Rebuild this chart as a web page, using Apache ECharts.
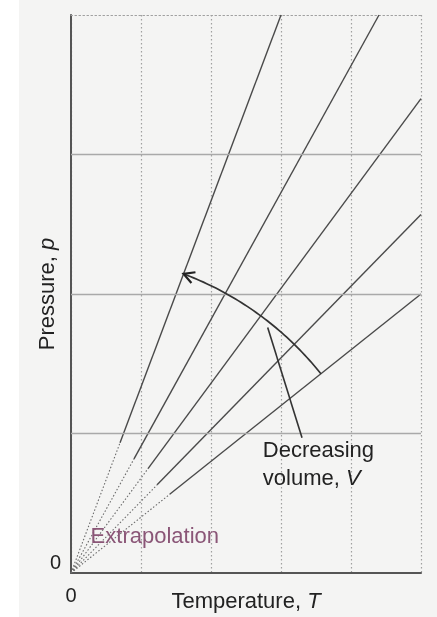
<!DOCTYPE html>
<html>
<head>
<meta charset="utf-8">
<style>
  html, body { margin: 0; padding: 0; background: #ffffff; }
  #chart { width: 437px; height: 617px; }
</style>
<script src="https://cdn.jsdelivr.net/npm/echarts@6/dist/echarts.min.js"></script>
</head>
<body>
<div id="chart"></div>
<script>
// Isochores: p proportional to T at fixed volume, all heading back to the origin.
const isochoreEnds = [[3.0, 4.0], [4.4, 4.0], [5.0, 3.4], [5.0, 2.57], [5.0, 2.0]];
// Where each measured (solid) segment begins; below this it is extrapolated.
const measuredFrom = [[0.7, 0.933], [0.9, 0.818], [1.1, 0.748], [1.23, 0.632], [1.41, 0.564]];
const origin = [0, 0];

// Axis ranges and gridlines
const tempTicks = [0, 1, 2, 3, 4, 5];
const pressureTicks = [0, 1, 2, 3, 4];
const pressureGrid = [1, 2, 3];

// "Decreasing volume" arrow: from the lowest isochore to the steepest one
const arrowFrom = [3.57, 1.428];
const arrowTo = [1.6, 2.133];
const leader = [[2.81, 1.76], [3.3, 0.97]];

// Annotations
const volumeLabelAt = [2.74, 0.975];
const extrapLabelAt = [0.28, 0.26];

const LINE = '#4a4a4a';
const TXT = '#222222';
const FONT = 'Liberation Sans, Arial, sans-serif';
const FS = 22;

const chart = echarts.init(document.getElementById('chart'));

const series = [];
isochoreEnds.forEach((end, i) => {
  series.push({
    type: 'line', xAxisIndex: 0, yAxisIndex: 0,
    data: [origin, measuredFrom[i]],
    symbol: 'none', silent: true, z: 3,
    lineStyle: { color: '#6a6a6a', width: 1.1, type: [1.5, 2] }
  });
  series.push({
    type: 'line', xAxisIndex: 0, yAxisIndex: 0,
    data: [measuredFrom[i], end],
    symbol: 'none', silent: true, z: 4,
    lineStyle: { color: LINE, width: 1.4 }
  });
});

// horizontal gridlines
series.push({
  type: 'line', data: [], silent: true,
  markLine: {
    silent: true, symbol: 'none', label: { show: false },
    lineStyle: { color: '#a9a9a9', width: 1.3, type: 'solid' },
    data: pressureGrid.map(v => ({ yAxis: v }))
  }
});

// leader line from the arrow to the label
series.push({
  type: 'line', data: leader, symbol: 'none', silent: true, z: 5,
  lineStyle: { color: '#333', width: 1.6 }
});

// circular arrow about the origin
series.push({
  type: 'custom', silent: true, z: 6,
  data: [[arrowFrom[0], arrowFrom[1], arrowTo[0], arrowTo[1]]],
  renderItem: function (params, api) {
    const o = api.coord(origin);
    const a = api.coord([api.value(0), api.value(1)]);
    const b = api.coord([api.value(2), api.value(3)]);
    const r = Math.hypot(a[0] - o[0], a[1] - o[1]);
    const t0 = Math.atan2(a[1] - o[1], a[0] - o[0]);
    const t1 = Math.atan2(b[1] - o[1], b[0] - o[0]);
    const pts = [];
    const n = 48;
    for (let k = 0; k <= n; k++) {
      const t = t0 + (t1 - t0) * k / n;
      pts.push([o[0] + r * Math.cos(t), o[1] + r * Math.sin(t)]);
    }
    const tip = pts[n];
    // direction of travel at the tip (tangent)
    const dir = Math.sign(t1 - t0);
    const tx = -Math.sin(t1) * dir, ty = Math.cos(t1) * dir;
    const back = Math.atan2(-ty, -tx);
    const len = 12, spread = 0.5;
    const w1 = [tip[0] + len * Math.cos(back + spread), tip[1] + len * Math.sin(back + spread)];
    const w2 = [tip[0] + len * Math.cos(back - spread), tip[1] + len * Math.sin(back - spread)];
    return {
      type: 'group',
      children: [
        { type: 'polyline', shape: { points: pts }, style: { stroke: '#333', lineWidth: 1.7, fill: null } },
        { type: 'polyline', shape: { points: [w1, tip, w2] }, style: { stroke: '#222', lineWidth: 2.2, fill: null } }
      ]
    };
  }
});

// text annotations
series.push({
  type: 'custom', silent: true, z: 7,
  data: [[volumeLabelAt[0], volumeLabelAt[1]]],
  renderItem: function (params, api) {
    const p = api.coord([api.value(0), api.value(1)]);
    return {
      type: 'text', x: p[0], y: p[1],
      style: {
        text: 'Decreasing\nvolume, {i|V}',
        fill: TXT, font: FS + 'px ' + FONT, lineHeight: 28,
        align: 'left', verticalAlign: 'top',
        rich: { i: { fontStyle: 'italic', fontSize: FS, fontFamily: FONT, fill: TXT, lineHeight: 28 } }
      }
    };
  }
});
series.push({
  type: 'custom', silent: true, z: 7,
  data: [[extrapLabelAt[0], extrapLabelAt[1]]],
  renderItem: function (params, api) {
    const p = api.coord([api.value(0), api.value(1)]);
    return {
      type: 'text', x: p[0], y: p[1],
      style: {
        text: 'Extrapolation', fill: '#8a5677', font: FS + 'px ' + FONT,
        align: 'left', verticalAlign: 'middle'
      }
    };
  }
});

chart.setOption({
  backgroundColor: '#f4f4f3',
  animation: false,
  graphic: [
    { type: 'rect', shape: { x: 0, y: 0, width: 19, height: 617 }, style: { fill: '#ffffff' }, silent: true }
  ],
  grid: { left: 71, right: 16, top: 15, bottom: 44, containLabel: false, outerBoundsMode: 'none' },
  xAxis: [{
    type: 'value', min: tempTicks[0], max: tempTicks[tempTicks.length - 1], interval: 1,
    name: 'Temperature, {i|T}', nameLocation: 'middle', nameGap: 29, nameMoveOverlap: false,
    nameTextStyle: {
      color: TXT, fontSize: FS, fontFamily: FONT, verticalAlign: 'middle',
      rich: { i: { fontStyle: 'italic', fontSize: FS, fontFamily: FONT, color: TXT } }
    },
    axisLine: { show: true, onZero: false, lineStyle: { color: '#555', width: 2 } },
    axisTick: { show: false },
    axisLabel: {
      margin: 13, color: TXT, fontSize: 20, fontFamily: FONT,
      formatter: v => (v === 0 ? '0' : '')
    },
    splitLine: { show: true, lineStyle: { color: '#a0a0a0', width: 1.2, type: [1.5, 2.5] } }
  }, {
    type: 'value', position: 'top', min: tempTicks[0], max: tempTicks[tempTicks.length - 1],
    axisLine: { show: true, onZero: false, lineStyle: { color: '#a0a0a0', width: 1.2, type: [1.5, 2.5] } },
    axisTick: { show: false }, axisLabel: { show: false }, splitLine: { show: false }
  }],
  yAxis: [{
    type: 'value', min: pressureTicks[0], max: pressureTicks[pressureTicks.length - 1], interval: 1,
    name: 'Pressure, {i|p}', nameLocation: 'middle', nameGap: 23, nameMoveOverlap: false,
    nameTextStyle: {
      color: TXT, fontSize: FS, fontFamily: FONT, verticalAlign: 'middle',
      rich: { i: { fontStyle: 'italic', fontSize: FS, fontFamily: FONT, color: TXT } }
    },
    axisLine: { show: true, onZero: false, lineStyle: { color: '#555', width: 2 } },
    axisTick: { show: false },
    axisLabel: {
      margin: 10, color: TXT, fontSize: 20, fontFamily: FONT, verticalAlign: 'bottom',
      formatter: v => (v === 0 ? '0' : '')
    },
    splitLine: { show: false }
  }],
  series: series
});
</script>
</body>
</html>
